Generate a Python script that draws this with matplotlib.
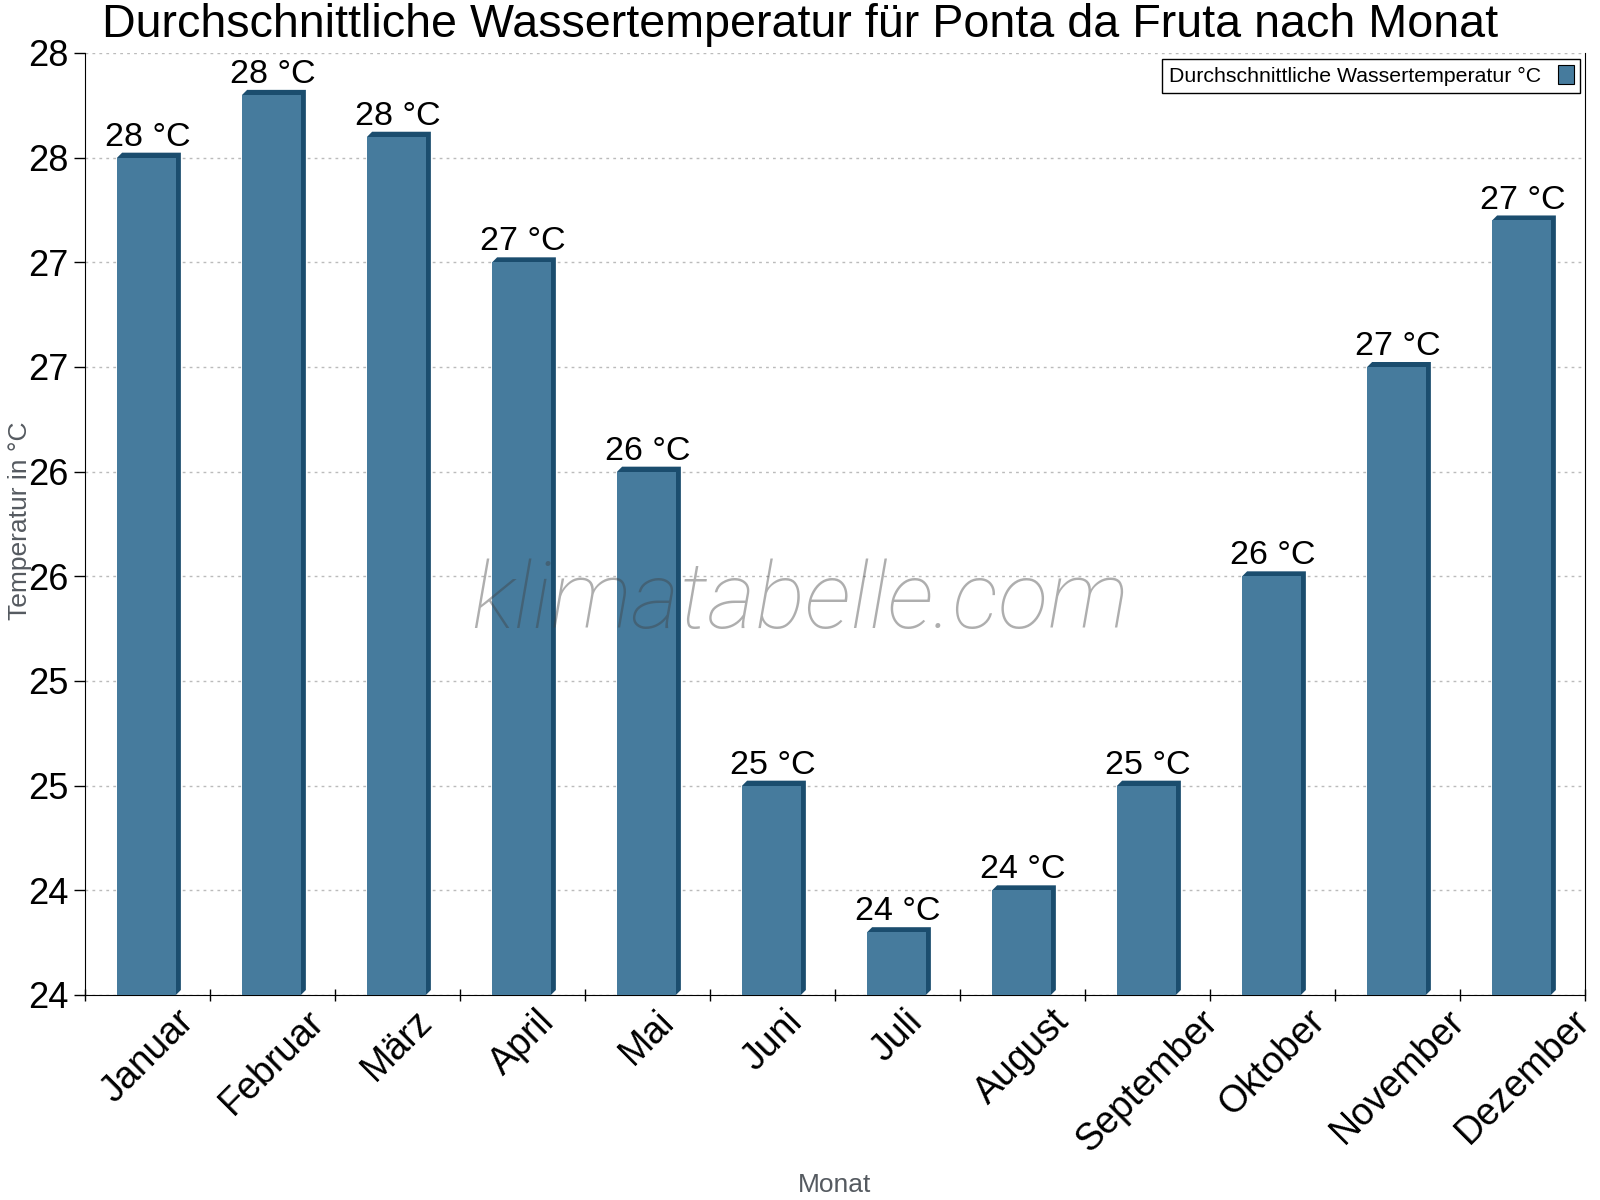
import numpy as np
import matplotlib
matplotlib.use('Agg')
import matplotlib.pyplot as plt
from matplotlib.patches import Polygon

months = ['Januar', 'Februar', 'März', 'April', 'Mai', 'Juni',
          'Juli', 'August', 'September', 'Oktober', 'November', 'Dezember']
water_temp = [27.6, 27.9, 27.7, 27.1, 26.1, 24.6, 23.9, 24.1, 24.6, 25.6, 26.6, 27.3]
y_ticks = [23.6, 24.1, 24.6, 25.1, 25.6, 26.1, 26.6, 27.1, 27.6, 28.1]

FACE = '#467b9d'
DARK = '#1b4d6e'

plt.rcParams['font.family'] = ['Liberation Sans', 'DejaVu Sans']

fig = plt.figure(figsize=(16, 12), dpi=100)
ax = fig.add_axes([85 / 1600, 205 / 1200, 1500 / 1600, 942 / 1200])

x = np.arange(len(months))
ymin, ymax = y_ticks[0], y_ticks[-1]
ax.set_xlim(-0.5, len(months) - 0.5)
ax.set_ylim(ymin, ymax)

# depth of the fake 3d bars: 5 px right and up, converted to data units
inv = ax.transData.inverted()
p0, p1 = inv.transform([[0, 0], [5, 5]])
dx, dy = p1 - p0

width = 0.47
for xi, v in zip(x, water_temp):
    x0, x1 = xi - width / 2 - 0.008, xi + width / 2 - 0.008
    side = Polygon([(x0, v), (x0 + dx, v + dy), (x1 + dx, v + dy),
                    (x1 + dx, ymin + dy), (x1, ymin), (x0, ymin)],
                   closed=True, facecolor=DARK, edgecolor='none', zorder=2)
    ax.add_patch(side)
bars = ax.bar(x - 0.008, [v - ymin for v in water_temp], width=width, bottom=ymin,
              color=FACE, zorder=3, label='Durchschnittliche Wassertemperatur °C')

for xi, v in zip(x, water_temp):
    ax.annotate(f'{v:.0f} °C', xy=(xi, v), xytext=(0, 3.5), textcoords='offset points',
                ha='center', va='bottom', fontsize=24.5, zorder=5)

# ticks: marks between the months, labels on the months
ax.set_xticks(np.arange(-0.5, len(months), 1.0))
ax.set_xticklabels([])
ax.set_xticks(x, minor=True)
ax.set_xticklabels(months, minor=True, rotation=45, ha='center', fontsize=27)
ax.tick_params(axis='x', which='major', direction='inout', length=8, width=1)
ax.tick_params(axis='x', which='minor', length=0, pad=6)

ax.set_yticks(y_ticks)
ax.set_yticklabels([f'{t:.0f}' for t in y_ticks], fontsize=26)
ax.tick_params(axis='y', direction='out', length=8, width=1, pad=4)

ax.grid(axis='y', color='#bbbbbb', linestyle=(0, (2, 3)), linewidth=1, zorder=0)
ax.set_axisbelow(True)
ax.spines['top'].set_visible(False)

fig.text(20 / 1600, 1 - 521 / 1200, 'Temperatur in °C', rotation=90,
         ha='center', va='center', fontsize=19, color='#555a60')
fig.text(835 / 1600, 1 - 1185 / 1200, 'Monat', ha='center', va='center',
         fontsize=19, color='#555a60')

fig.text(0.5, 1 - 37 / 1200, 'Durchschnittliche Wassertemperatur für Ponta da Fruta nach Monat',
         ha='center', va='baseline', fontsize=33.6)

# watermark, drawn over the bars
fig.text(0.5, 1 - 628 / 1200, 'klimatabelle.com', ha='center', va='baseline',
         fontsize=67, family='Roboto', style='italic', weight='light',
         color='#404040', alpha=0.42, zorder=10)

leg = ax.legend(loc='upper right', fontsize=15.3, markerfirst=False, fancybox=False,
                framealpha=1, edgecolor='black', handlelength=0.75, handleheight=1.0,
                borderaxespad=0, borderpad=0.3,
                bbox_to_anchor=(1580 / 1600, 1 - 59 / 1200), bbox_transform=fig.transFigure)
leg.get_frame().set_linewidth(1)
for h in leg.legend_handles:
    h.set_edgecolor('black')
    h.set_linewidth(0.8)

fig.savefig('out.png', dpi=100)
plt.close(fig)
